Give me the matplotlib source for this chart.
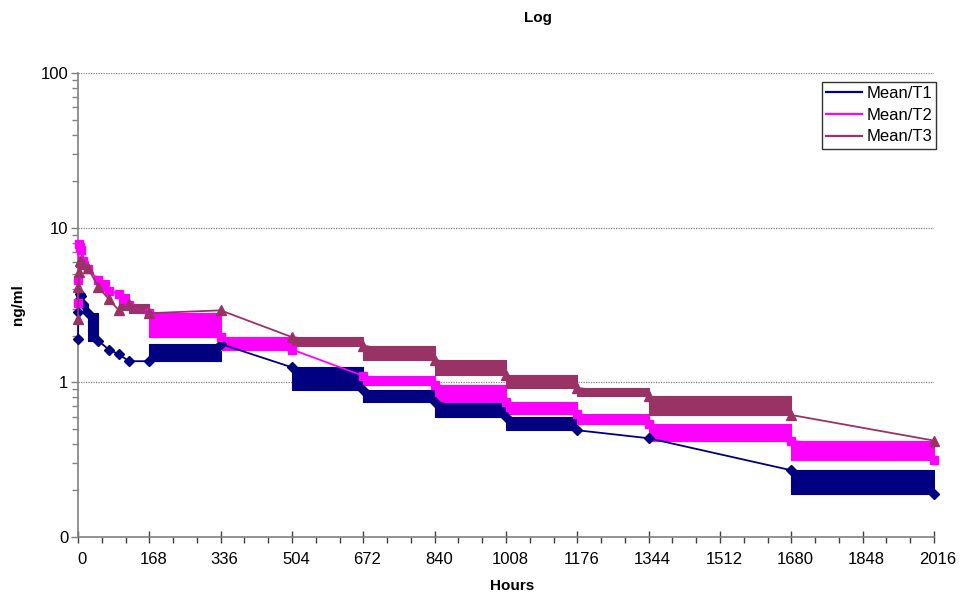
import matplotlib
matplotlib.use("Agg")
import matplotlib.pyplot as plt
import matplotlib.transforms as mtransforms
from matplotlib.ticker import LogLocator, NullFormatter, FixedLocator, MultipleLocator

plt.rcParams['font.family'] = ['Liberation Sans', 'DejaVu Sans']

# ---- data ----
hours = [0, 1, 2, 4, 8, 12, 24, 48, 72, 96, 120, 168, 336, 504, 672, 840,
         1008, 1176, 1344, 1680, 2016]

t1 = [1.92, 2.85, 3.4, 3.75, 3.6, 3.2, 2.8, 1.86, 1.63, 1.52, 1.37, 1.37,
      1.77, 1.25, 0.89, 0.75, 0.60, 0.49, 0.435, 0.27, 0.19]
t2 = [3.25, 4.56, 7.8, 7.5, 7.2, 6.1, 5.4, 4.6, 3.9, 3.75, 3.15, 2.8,
      1.95, 1.63, 1.10, 0.96, 0.75, 0.625, 0.535, 0.42, 0.315]
t3 = [2.58, 4.13, 5.2, 6.1, 6.0, 5.8, 5.45, 4.13, 3.47, 2.92, 3.2, 2.8,
      2.92, 1.96, 1.73, 1.40, 1.11, 0.92, 0.81, 0.615, 0.42]

# segments (between consecutive points) rendered as filled blocks: 1 = block
t1_blocks = [0, 0, 0, 1, 1, 1, 1, 0, 0, 0, 0, 1, 0, 1, 1, 1, 1, 0, 0, 1]
t2_blocks = [0, 0, 1, 1, 1, 1, 0, 1, 0, 1, 0, 1, 1, 0, 1, 1, 1, 1, 1, 1]
t3_blocks = [0, 0, 0, 1, 1, 1, 0, 0, 0, 1, 1, 0, 0, 1, 1, 1, 1, 1, 1, 0]

series_names = ['Mean/T1', 'Mean/T2', 'Mean/T3']
x_ticks = [0, 168, 336, 504, 672, 840, 1008, 1176, 1344, 1512, 1680, 1848, 2016]
y_ticks = [0.1, 1, 10, 100]
y_tick_labels = ['0', '1', '10', '100']

colors = ['#000080', '#FF00FF', '#993366']
markers = ['D', 's', '^']
msizes = [5, 5.5, 6.5]

fig = plt.figure(figsize=(9.61, 5.94), dpi=100)
ax = fig.add_axes([78 / 961, 1 - 537 / 594, (934 - 78) / 961, (537 - 73) / 594])

ax.set_yscale('log')
ax.set_ylim(0.1, 100)
ax.set_xlim(0, 2016)

for y, blocks, c, m, ms, name in zip([t1, t2, t3], [t1_blocks, t2_blocks, t3_blocks],
                                     colors, markers, msizes, series_names):
    for i, b in enumerate(blocks):
        if b:
            ax.fill_between([hours[i], hours[i + 1]], [y[i], y[i]], [y[i + 1], y[i + 1]],
                            color=c, linewidth=0.8, zorder=2)
    ax.plot(hours, y, color=c, linewidth=1.3, marker=m, markersize=ms,
            markeredgecolor=c, markerfacecolor=c, label=name, clip_on=False, zorder=3)

# gridlines
for yv in [1, 10, 100]:
    ax.axhline(yv, color='#808080', linestyle=(0, (1, 1)), linewidth=0.9, zorder=1)

ax.spines['top'].set_visible(False)
ax.spines['right'].set_visible(False)
for s in ['left', 'bottom']:
    ax.spines[s].set_color('#808080')
    ax.spines[s].set_linewidth(1.2)

ax.yaxis.set_major_locator(FixedLocator(y_ticks))
ax.set_yticklabels(y_tick_labels)
ax.yaxis.set_minor_locator(LogLocator(base=10, subs=range(2, 10)))
ax.yaxis.set_minor_formatter(NullFormatter())
ax.tick_params(axis='y', which='major', direction='out', length=5, width=1, color='#808080',
               labelsize=12, pad=2)
ax.tick_params(axis='y', which='minor', direction='out', length=4, width=1, color='#808080')

ax.set_xticks(x_ticks)
ax.set_xticklabels([str(v) for v in x_ticks])
ax.xaxis.set_minor_locator(MultipleLocator(56))
ax.tick_params(axis='x', which='major', direction='inout', length=8, width=1, color='#404040',
               labelsize=12, pad=7)
ax.tick_params(axis='x', which='minor', direction='out', length=4, width=1, color='#404040')
offset = mtransforms.ScaledTranslation(4 / 100, 0, fig.dpi_scale_trans)
for lab in ax.get_xticklabels():
    lab.set_transform(lab.get_transform() + offset)

fig.text(538 / 961, 1 - 18 / 594, 'Log', ha='center', va='center', fontsize=11, fontweight='bold')
fig.text(512 / 961, 1 - 586 / 594, 'Hours', ha='center', va='center', fontsize=11, fontweight='bold')
fig.text(18 / 961, 1 - 305 / 594, 'ng/ml', ha='center', va='center', rotation=90, fontsize=11,
         fontweight='bold')

leg = ax.legend(loc='upper left', bbox_to_anchor=(822 / 961, 1 - 82 / 594),
                bbox_transform=fig.transFigure, fontsize=12, frameon=True, fancybox=False,
                edgecolor='black', borderpad=0.25, handlelength=2.15, handletextpad=0.25,
                labelspacing=0.4, borderaxespad=0)
leg.get_frame().set_linewidth(1.0)
for h in leg.legend_handles:
    h.set_marker('')
    h.set_linewidth(1.6)

fig.savefig('out.png', dpi=100)
